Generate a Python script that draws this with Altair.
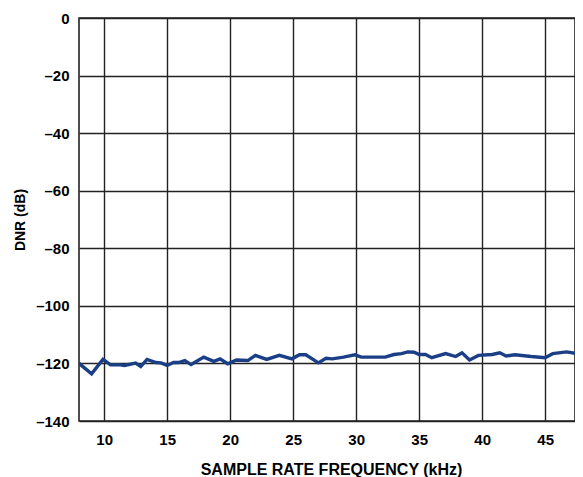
import altair as alt
import pandas as pd

freq_khz = [8.0, 9.0, 9.9, 10.5, 11.2, 11.6, 12.5, 12.9, 13.4, 14.1, 14.5, 15.0,
            15.5, 15.9, 16.4, 16.9, 17.9, 18.7, 19.2, 19.8, 20.5, 21.4, 22.0, 22.9,
            23.9, 24.9, 25.5, 26.0, 27.0, 27.6, 28.1, 29.0, 29.9, 30.4, 32.3, 33.0,
            33.6, 34.1, 34.6, 35.0, 35.5, 36.0, 37.1, 37.9, 38.4, 39.0, 39.7, 40.8,
            41.4, 41.9, 42.6, 43.9, 45.0, 45.6, 46.7, 47.6, 48.0]
dnr_db = [-120.0, -123.6, -118.6, -120.5, -120.4, -120.7, -119.9, -121.1, -118.6, -119.7,
          -119.8, -120.7, -119.7, -119.7, -119.0, -120.4, -117.8, -119.3, -118.4, -120.1,
          -118.8, -119.0, -117.2, -118.6, -117.2, -118.4, -117.0, -117.0, -119.8, -118.2,
          -118.4, -117.8, -117.0, -117.8, -117.8, -116.9, -116.6, -116.0, -116.1, -116.9,
          -116.9, -118.0, -116.6, -117.6, -116.3, -118.8, -117.2, -116.9, -116.3, -117.4,
          -117.0, -117.6, -118.0, -116.6, -116.0, -116.6, -115.8]
x_ticks = [10, 15, 20, 25, 30, 35, 40, 45]
y_ticks = [0, -20, -40, -60, -80, -100, -120, -140]

df = pd.DataFrame({"f": freq_khz, "dnr": dnr_db})

FONT = "Liberation Sans"

chart = alt.Chart(df).mark_line(color="#1b3f86", strokeWidth=3.4, clip=True).encode(
    x=alt.X("f:Q", scale=alt.Scale(domain=[8, 47.37], nice=False, zero=False),
            axis=alt.Axis(values=x_ticks, title="SAMPLE RATE FREQUENCY (kHz)",
                          labelFontSize=15, labelFontWeight="bold", labelFont=FONT,
                          labelColor="#000", labelPadding=11, ticks=False, domain=False,
                          titleFont=FONT, titleFontSize=16, titleFontWeight="bold",
                          titleColor="#000", titleX=252, titleY=40,
                          gridColor="#222", gridWidth=1.4, gridOpacity=1)),
    y=alt.Y("dnr:Q", scale=alt.Scale(domain=[-140, 0], nice=False),
            axis=alt.Axis(values=y_ticks, title="DNR (dB)",
                          labelExpr="datum.value < 0 ? '\u2013' + abs(datum.value) : '' + datum.value",
                          labelFontSize=15, labelFontWeight="bold", labelFont=FONT,
                          labelColor="#000", labelPadding=10, ticks=False, domain=False,
                          titleFont=FONT, titleFontSize=14, titleFontWeight="bold",
                          titleColor="#000", titlePadding=8,
                          gridColor="#222", gridWidth=1.4, gridOpacity=1)),
).properties(
    width=496, height=403,
    autosize=alt.AutoSizeParams(type="none"),
    padding={"left": 71, "top": 10, "right": 0, "bottom": 57},
).configure_view(stroke="#222", strokeWidth=1.6)

chart.save("out.html", embed_options={"renderer": "svg", "actions": False})
